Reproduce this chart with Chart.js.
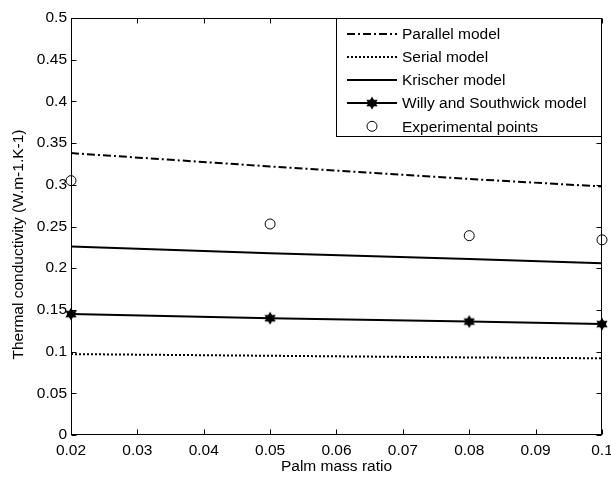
<!DOCTYPE html>
<html><head><meta charset="utf-8">
<script src="https://cdn.jsdelivr.net/npm/chart.js@4/dist/chart.umd.min.js"></script>
<style>html,body{margin:0;padding:0;background:#fff}#c{display:block}</style>
</head><body>
<div style="width:611px;height:478px"><canvas id="c" width="611" height="478"></canvas></div>
<script>
const massRatio = [0.02, 0.05, 0.08, 0.1];
const parallelModel = [0.338, 0.322, 0.307, 0.298];
const serialModel = [0.097, 0.095, 0.093, 0.092];
const krischerModel = [0.226, 0.218, 0.211, 0.206];
const willyModel = [0.145, 0.140, 0.136, 0.133];
const experimentalPoints = [0.305, 0.253, 0.239, 0.234];
const xTickValues = [0.02, 0.03, 0.04, 0.05, 0.06, 0.07, 0.08, 0.09, 0.1];
const xTickLabels = ['0.02','0.03','0.04','0.05','0.06','0.07','0.08','0.09','0.1'];
const yTickValues = [0, 0.05, 0.1, 0.15, 0.2, 0.25, 0.3, 0.35, 0.4, 0.45, 0.5];
const yTickLabels = ['0','0.05','0.1','0.15','0.2','0.25','0.3','0.35','0.4','0.45','0.5'];
const seriesNames = ['Parallel model','Serial model','Krischer model','Willy and Southwick model','Experimental points'];
const xTitle = 'Palm mass ratio';
const yTitle = 'Thermal conductivity (W.m-1.K-1)';

const FONT = '"Liberation Sans", Arial, sans-serif';

// hexagram marker
const hex = document.createElement('canvas');
hex.width = 16; hex.height = 16;
(function(){
  const g = hex.getContext('2d');
  const cx = 8, cy = 8, r = 6.5;
  g.fillStyle = '#000';
  for (let k = 0; k < 2; k++) {
    g.beginPath();
    for (let i = 0; i < 3; i++) {
      const a = -Math.PI/2 + k*Math.PI + i*2*Math.PI/3;
      const px = cx + r*Math.cos(a), py = cy + r*Math.sin(a);
      if (i === 0) g.moveTo(px, py); else g.lineTo(px, py);
    }
    g.closePath(); g.fill();
  }
})();

const pts = arr => massRatio.map((x, i) => ({x, y: arr[i]}));

const datasets = [
  {label: seriesNames[0], data: pts(parallelModel), borderColor:'#000', borderWidth:2, borderDash:[8,3,2,3], pointRadius:0, fill:false, tension:0},
  {label: seriesNames[1], data: pts(serialModel), borderColor:'#000', borderWidth:2, borderDash:[2,2], pointRadius:0, fill:false, tension:0},
  {label: seriesNames[2], data: pts(krischerModel), borderColor:'#000', borderWidth:2, pointRadius:0, fill:false, tension:0},
  {label: seriesNames[3], data: pts(willyModel), borderColor:'#000', borderWidth:2, pointStyle: hex, pointRadius:7, fill:false, tension:0, clip:false},
  {label: seriesNames[4], data: pts(experimentalPoints), borderColor:'#000', backgroundColor:'rgba(0,0,0,0)', borderWidth:1, showLine:false, pointStyle:'circle', pointRadius:5, clip:false}
];

const boxPlugin = {
  id: 'matlabBox',
  afterDraw(chart) {
    const ctx = chart.ctx, a = chart.chartArea;
    const xs = chart.scales.x, ys = chart.scales.y;
    const L = Math.round(a.left)+0.5, R = Math.round(a.right)-0.5, T = Math.round(a.top)+0.5, B = Math.round(a.bottom)-0.5;
    ctx.save();
    ctx.strokeStyle = '#000'; ctx.lineWidth = 1;
    ctx.strokeRect(L, T, R-L, B-T);
    const tl = 5;
    ctx.beginPath();
    xTickValues.forEach(v => {
      const px = Math.round(xs.getPixelForValue(v))+0.5;
      ctx.moveTo(px, B); ctx.lineTo(px, B-tl);
      ctx.moveTo(px, T); ctx.lineTo(px, T+tl);
    });
    yTickValues.forEach(v => {
      const py = Math.round(ys.getPixelForValue(v))+0.5;
      ctx.moveTo(L, py); ctx.lineTo(L+tl, py);
      ctx.moveTo(R, py); ctx.lineTo(R-tl, py);
    });
    ctx.stroke();

    // y title
    ctx.save();
    ctx.translate(19, (a.top + a.bottom)/2 + 18);
    ctx.rotate(-Math.PI/2);
    ctx.font = '15.5px ' + FONT;
    ctx.fillStyle = '#000'; ctx.textAlign = 'center'; ctx.textBaseline = 'middle';
    ctx.fillText(yTitle, 0, 0);
    ctx.restore();

    // legend
    const w = 266, h = 119;
    const lx = Math.round(a.right) - w, ly = Math.round(a.top);
    ctx.fillStyle = '#fff';
    ctx.fillRect(lx, ly, w, h);
    ctx.strokeRect(lx+0.5, ly+0.5, w-1, h-1);
    ctx.font = '15.5px ' + FONT;
    ctx.textAlign = 'left'; ctx.textBaseline = 'middle';
    datasets.forEach((ds, i) => {
      const cy = ly + 15.5 + 23.2*i;
      const x0 = lx + 11, x1 = lx + 61, xc = (x0+x1)/2;
      ctx.strokeStyle = '#000';
      if (ds.showLine !== false) {
        ctx.lineWidth = 2;
        ctx.setLineDash(ds.borderDash || []);
        ctx.beginPath(); ctx.moveTo(x0, Math.round(cy)); ctx.lineTo(x1, Math.round(cy)); ctx.stroke();
        ctx.setLineDash([]);
      }
      if (ds.pointStyle === hex) {
        ctx.drawImage(hex, xc-8, cy-8);
      } else if (ds.pointStyle === 'circle') {
        ctx.lineWidth = 1;
        ctx.beginPath(); ctx.arc(xc, cy, 5, 0, Math.PI*2); ctx.stroke();
      }
      ctx.fillStyle = '#000';
      ctx.fillText(ds.label, lx + 66, cy + 1);
    });
    ctx.restore();
  }
};

new Chart(document.getElementById('c'), {
  type: 'line',
  data: {datasets},
  options: {
    responsive: false,
    devicePixelRatio: 1,
    animation: false,
    layout: {padding: {top: 18, right: 6, left: 0, bottom: 0}},
    plugins: {legend: {display: false}, tooltip: {enabled: false}},
    scales: {
      x: {
        type: 'linear', min: 0.02, max: 0.1,
        afterBuildTicks: s => { s.ticks = xTickValues.map(v => ({value: v})); },
        afterFit: s => { s.height = 43; s.paddingLeft = 0; s.paddingRight = 0; },
        grid: {display: false, drawTicks: false}, border: {display: false},
        ticks: {autoSkip: false, maxRotation: 0, padding: 6, color: '#000', font: {family: FONT, size: 15.5},
                callback: (v, i) => xTickLabels[i]},
        title: {display: true, text: xTitle, color: '#000', font: {family: FONT, size: 15.5}, padding: {top: 2, bottom: 2}}
      },
      y: {
        type: 'linear', min: 0, max: 0.5,
        afterBuildTicks: s => { s.ticks = yTickValues.map(v => ({value: v})); },
        afterFit: s => { s.width = 71; s.paddingTop = 0; s.paddingBottom = 0; },
        grid: {display: false, drawTicks: false}, border: {display: false},
        ticks: {autoSkip: false, padding: 4, color: '#000', font: {family: FONT, size: 15.5},
                callback: (v, i) => yTickLabels[i]}
      }
    }
  },
  plugins: [boxPlugin]
});
</script>
</body></html>
